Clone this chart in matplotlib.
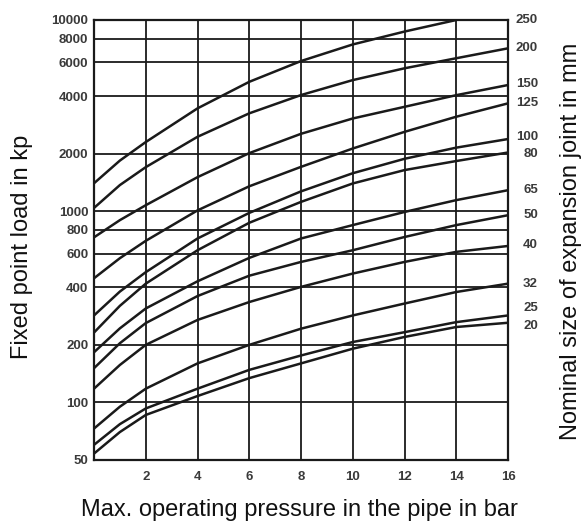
import numpy as np
import matplotlib
matplotlib.use("Agg")
import matplotlib.pyplot as plt
from matplotlib.ticker import FixedLocator, NullLocator, FixedFormatter

plt.rcParams['font.family'] = ['Liberation Sans', 'DejaVu Sans']

# --- data ---
pressure = [0, 1, 2, 4, 6, 8, 10, 12, 14, 16]           # bar
pressure_250 = [0, 1, 2, 4, 6, 8, 10, 12, 14]            # DN250 leaves the chart at 14 bar

dn_sizes = [250, 200, 150, 125, 100, 80, 65, 50, 40, 32, 25, 20]

load_250 = [1400, 1840, 2300, 3450, 4750, 6100, 7450, 8700, 10000]
load_200 = [1040, 1370, 1700, 2450, 3250, 4050, 4850, 5590, 6310, 7110]
load_150 = [730, 898, 1075, 1507, 2013, 2540, 3055, 3515, 4045, 4570]
load_125 = [446, 568, 700, 1010, 1350, 1706, 2128, 2600, 3120, 3665]
load_100 = [285, 380, 480, 720, 980, 1270, 1580, 1880, 2150, 2385]
load_80 = [232, 320, 418, 625, 870, 1119, 1397, 1641, 1830, 2028]
load_65 = [183, 244, 310, 430, 570, 720, 846, 991, 1143, 1288]
load_50 = [151, 204, 260, 360, 460, 543, 625, 733, 846, 953]
load_40 = [118, 157, 200, 270, 335, 402, 472, 543, 613, 658]
load_32 = [73, 95, 118, 160, 200, 243, 285, 329, 378, 418]
load_25 = [60, 77, 93, 118, 148, 176, 207, 233, 263, 285]
load_20 = [54, 70, 86, 108, 134, 160, 191, 220, 248, 261]

y_ticks = [50, 100, 200, 400, 600, 800, 1000, 2000, 4000, 6000, 8000, 10000]
x_ticks = [2, 4, 6, 8, 10, 12, 14, 16]

curves = [load_250, load_200, load_150, load_125, load_100, load_80,
          load_65, load_50, load_40, load_32, load_25, load_20]

# small vertical nudges (px) so the stacked size labels do not collide
label_nudge = {250: 0, 200: 0, 150: 1, 125: 0, 100: 2, 80: -1, 65: 0,
               50: 0, 40: 1, 32: 0, 25: 7, 20: -3}

fig = plt.figure(figsize=(5.83, 5.25), dpi=100)
ax = fig.add_axes([94 / 583, 1 - 460 / 525, (508 - 94) / 583, (460 - 20) / 525])

ax.set_yscale('log')
ax.set_xlim(0, 16)
ax.set_ylim(50, 10000)

ink = '#1a1a1a'
txt = '#3a3a3a'

# grid
for g in y_ticks[1:-1]:
    ax.axhline(g, color=ink, lw=1.3, zorder=1)
for g in x_ticks[:-1]:
    ax.axvline(g, color=ink, lw=1.3, zorder=1)

for dn, load in zip(dn_sizes, curves):
    xs = pressure_250 if dn == 250 else pressure
    ax.plot(xs, load, color=ink, lw=1.8, zorder=3, solid_capstyle='round')
    ax.annotate(str(dn), xy=(16, load[-1]), xycoords='data',
                xytext=(21.6, label_nudge[dn] * 0.72), textcoords='offset points',
                ha='right', va='center', fontsize=9.5, fontweight='bold', color=txt,
                annotation_clip=False)

for s in ax.spines.values():
    s.set_linewidth(1.6)
    s.set_color(ink)

ax.yaxis.set_major_locator(FixedLocator(y_ticks))
ax.yaxis.set_major_formatter(FixedFormatter([str(v) for v in y_ticks]))
ax.yaxis.set_minor_locator(NullLocator())
ax.set_xticks(x_ticks)
ax.set_xticklabels([str(v) for v in x_ticks])
ax.tick_params(axis='both', length=0, labelsize=9.5, labelcolor=txt)
ax.tick_params(axis='y', pad=4)
ax.tick_params(axis='x', pad=8)
for lab in ax.get_xticklabels() + ax.get_yticklabels():
    lab.set_fontweight('bold')

fig.text(22 / 583, 1 - 247 / 525, 'Fixed point load in kp', rotation=90,
         ha='center', va='center', fontsize=17, color='#111111')
fig.text(571 / 583, 1 - 241 / 525, 'Nominal size of expansion joint in mm', rotation=90,
         ha='center', va='center', fontsize=17, color='#111111')
fig.text(299 / 583, 1 - 510 / 525, 'Max. operating pressure in the pipe in bar',
         ha='center', va='center', fontsize=17, color='#111111')

fig.savefig('out.png', dpi=100)
